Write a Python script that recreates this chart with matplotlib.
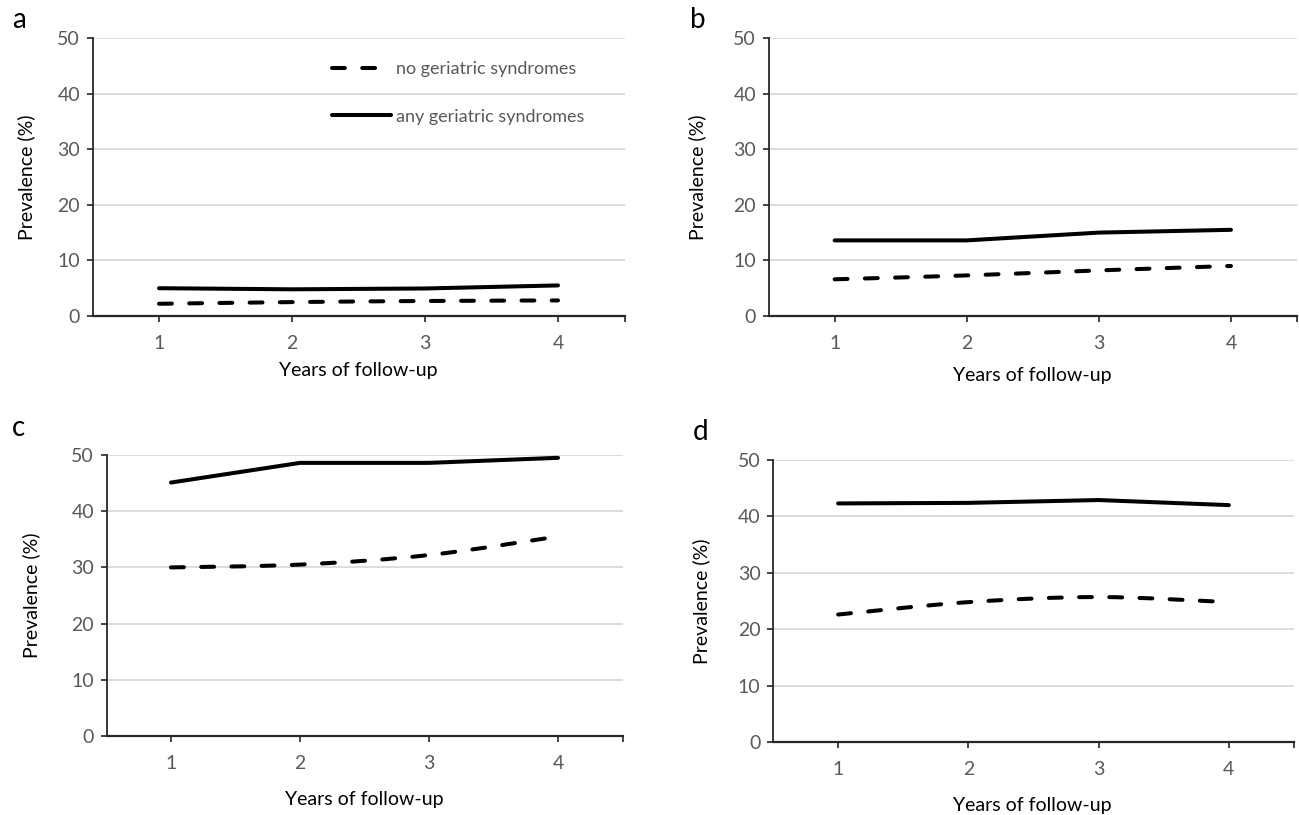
import matplotlib.pyplot as plt
from matplotlib.path import Path
from matplotlib.patches import PathPatch
from matplotlib.lines import Line2D

plt.rcParams["font.family"] = ["Lato", "DejaVu Sans"]

W, H = 1299, 815

years = [1, 2, 3, 4]
yticks = [0, 10, 20, 30, 40, 50]

a_none = [2.2, 2.5, 2.7, 2.8]
a_any = [5.0, 4.8, 4.95, 5.5]
b_none = [6.6, 7.3, 8.2, 9.0]
b_any = [13.6, 13.6, 15.0, 15.5]
c_none = [30.0, 30.5, 32.2, 35.5]
c_any = [45.1, 48.6, 48.6, 49.5]
d_none = [22.6, 24.8, 25.7, 24.8]
d_any = [42.3, 42.4, 42.9, 42.0]

label_none = "no geriatric syndromes"
label_any = "any geriatric syndromes"

GREY = "#595959"
LW = 2.9
DASH = (0, (3.2, 4.3))


def smooth_path(xs, ys):
    # excel-like smoothed line: cubic bezier through the points
    pts = list(zip(xs, ys))
    verts = [pts[0]]
    codes = [Path.MOVETO]
    for i in range(len(pts) - 1):
        p0 = pts[i - 1] if i > 0 else pts[i]
        p1 = pts[i]
        p2 = pts[i + 1]
        p3 = pts[i + 2] if i + 2 < len(pts) else pts[i + 1]
        c1 = (p1[0] + (p2[0] - p0[0]) / 6, p1[1] + (p2[1] - p0[1]) / 6)
        c2 = (p2[0] - (p3[0] - p1[0]) / 6, p2[1] - (p3[1] - p1[1]) / 6)
        verts += [c1, c2, p2]
        codes += [Path.CURVE4] * 3
    return Path(verts, codes)


def px_rect(left, right, top, bottom):
    return [left / W, 1 - bottom / H, (right - left) / W, (bottom - top) / H]


def panel(fig, rect, none_vals, any_vals):
    ax = fig.add_axes(rect)
    ax.set_xlim(0.5, 4.5)
    ax.set_ylim(0, 50)
    ax.add_patch(PathPatch(smooth_path(years, none_vals), fill=False,
                           color="black", lw=LW, linestyle=DASH,
                           capstyle="round", zorder=3))
    ax.plot(years, any_vals, color="black", lw=LW,
            solid_capstyle="round", solid_joinstyle="round", zorder=3)
    ax.set_xticks(years)
    ax.set_xticks([4.5], minor=True)
    ax.set_yticks(yticks)
    for y in yticks[1:]:
        ax.axhline(y, color="#d9d9d9", lw=1.3, zorder=1)
    for s in ["top", "right"]:
        ax.spines[s].set_visible(False)
    ax.spines["left"].set_color("#262626")
    ax.spines["left"].set_linewidth(1.3)
    ax.spines["bottom"].set_color("#262626")
    ax.spines["bottom"].set_linewidth(1.6)
    ax.tick_params(axis="both", which="both", direction="out", length=4,
                   width=1.2, color="#262626", labelcolor=GREY, labelsize=14)
    ax.tick_params(axis="x", pad=10)
    ax.tick_params(axis="y", pad=5)
    return ax


fig = plt.figure(figsize=(W / 100, H / 100), dpi=100)

ax_a = panel(fig, px_rect(92.5, 624.5, 38, 316), a_none, a_any)
ax_b = panel(fig, px_rect(768.6, 1297, 38, 316), b_none, b_any)
ax_c = panel(fig, px_rect(106.5, 622.5, 455, 736), c_none, c_any)
ax_d = panel(fig, px_rect(773, 1294, 460, 742), d_none, d_any)

handles = [
    Line2D([], [], color="black", lw=LW, linestyle=DASH, dash_capstyle="round"),
    Line2D([], [], color="black", lw=LW, solid_capstyle="round"),
]
leg = ax_a.legend(handles, [label_none, label_any], loc="upper right",
                  bbox_to_anchor=(0.955, 0.975), frameon=False, fontsize=13,
                  labelcolor=GREY, labelspacing=1.75, handlelength=3.3,
                  handletextpad=0.25)

# panel letters
for letter, x, y in [("a", 12, 20), ("b", 690, 20), ("c", 12, 428), ("d", 693, 432)]:
    fig.text(x / W, 1 - y / H, letter, fontsize=20, ha="left", va="center", color="black")

# axis titles
for x, y0, y1 in [(26, 38, 316), (697, 38, 316), (31, 455, 736), (701, 460, 742)]:
    fig.text(x / W, 1 - (y0 + y1) / 2 / H, "Prevalence (%)", rotation=90,
             fontsize=14, ha="center", va="center", color="black")
for x, y in [(358, 370), (1032, 375), (364, 800), (1032, 805)]:
    fig.text(x / W, 1 - y / H, "Years of follow-up", fontsize=14,
             ha="center", va="center", color="black")

fig.savefig("out.png", dpi=100)
